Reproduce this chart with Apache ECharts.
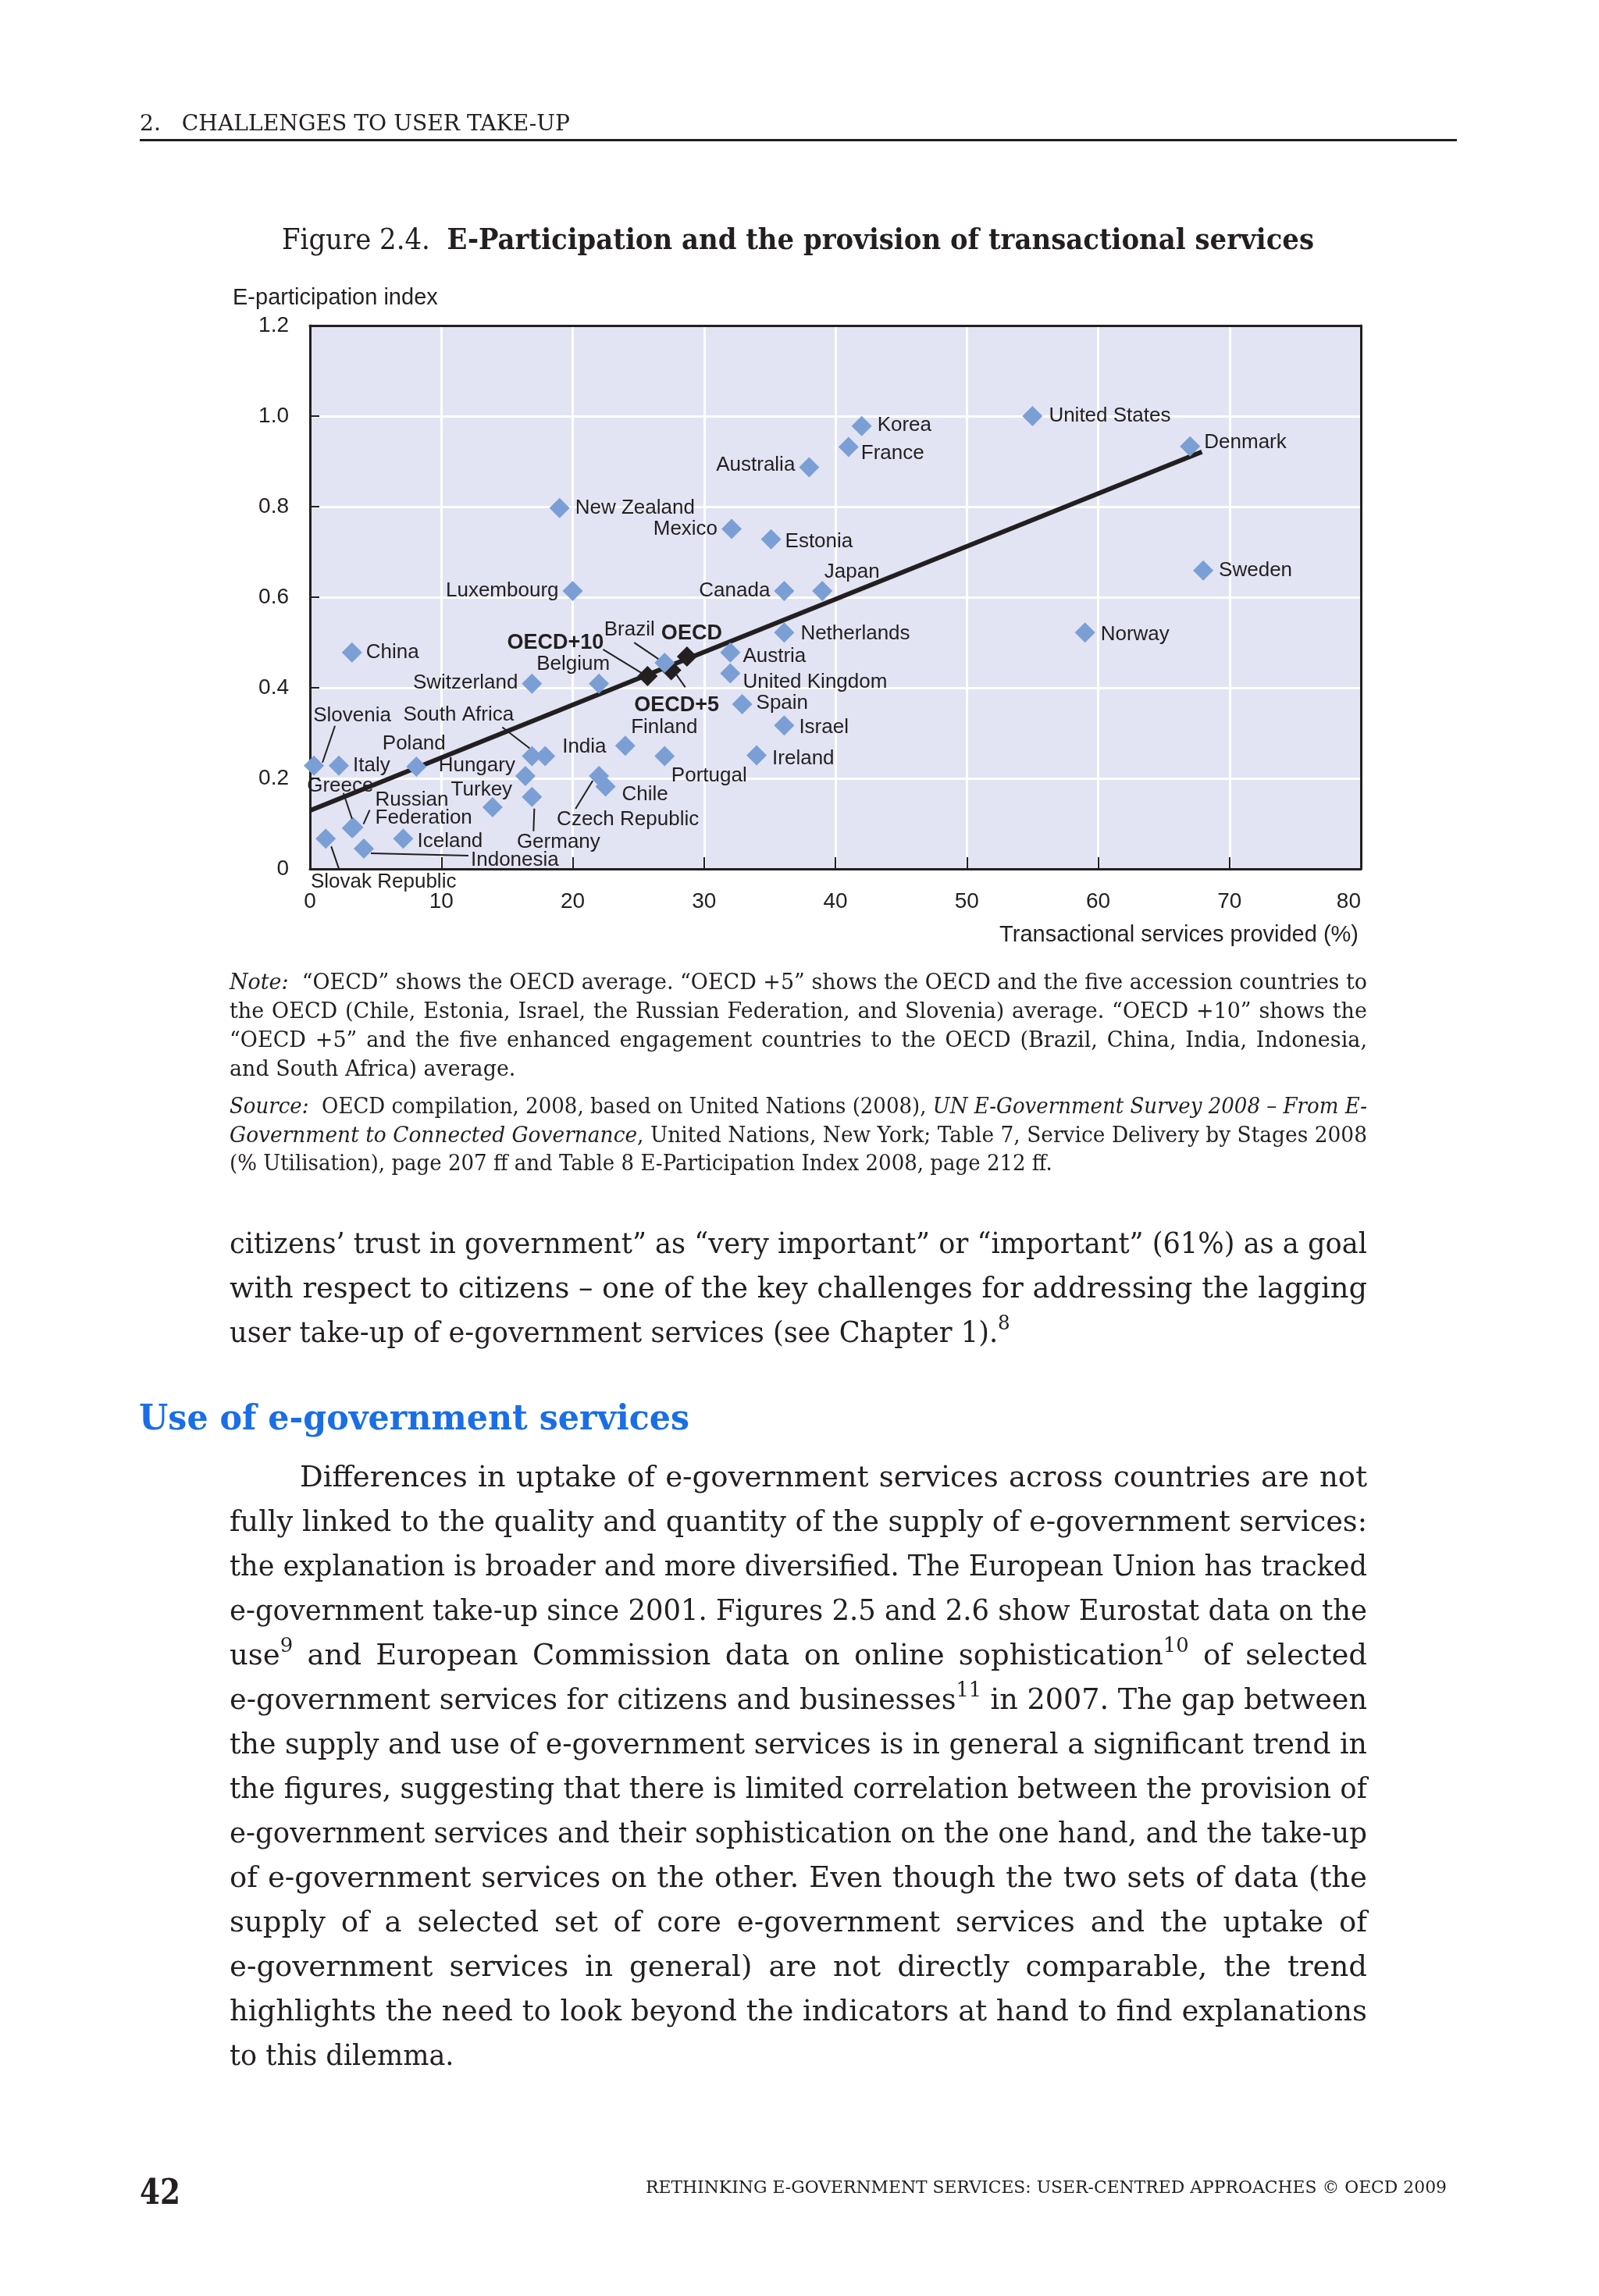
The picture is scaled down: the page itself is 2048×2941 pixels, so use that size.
<!DOCTYPE html>
<html>
<head>
<meta charset="utf-8">
<script src="https://cdn.jsdelivr.net/npm/echarts@6.0.0/dist/echarts.min.js"></script>
<style>
  html, body { margin: 0; padding: 0; background: #ffffff; }
  #page { position: relative; width: 2048px; height: 2941px; overflow: hidden; background: #ffffff; }
  #chart { position: absolute; left: 0; top: 0; width: 2048px; height: 2941px; }
  .t { position: absolute; white-space: nowrap; color: #231f20; transform-origin: 0 50%; z-index: 2; }
  .t sup { font-size: 0.7em; vertical-align: 0.6em; line-height: 0; }
  #rule { position: absolute; left: 179px; top: 178px; width: 1687px; height: 3px; background: #231f20; }
</style>
</head>
<body>
<div id="page">
  <div id="chart"></div>
  <div id="rule"></div>
</div>
<script>
// countries: share of transactional services provided (%) vs e-participation index
const countries = ['China', 'Slovenia', 'Italy', 'Poland', 'Greece', 'Russian Federation', 'Slovak Republic',
  'Indonesia', 'Iceland', 'Turkey', 'Hungary', 'Germany', 'South Africa', 'India', 'Switzerland', 'Belgium',
  'Czech Republic', 'Chile', 'Finland', 'Brazil', 'Portugal', 'Austria', 'United Kingdom', 'Spain', 'Ireland',
  'Israel', 'Netherlands', 'Canada', 'Japan', 'Luxembourg', 'New Zealand', 'Mexico', 'Estonia', 'Australia',
  'France', 'Korea', 'United States', 'Denmark', 'Sweden', 'Norway']
const transactional = [3.2, 0.3, 2.2, 8.1, 3.2, 3.3, 1.2,
  4.1, 7.1, 13.9, 16.4, 16.9, 16.9, 17.9, 16.9, 22.0,
  22.0, 22.5, 24.0, 27.0, 27.0, 32.0, 32.0, 32.9, 34.0,
  36.1, 36.1, 36.1, 39.0, 20.0, 19.0, 32.1, 35.1, 38.0,
  41.0, 42.0, 55.0, 67.0, 68.0, 59.0]
const eParticipation = [0.478, 0.228, 0.228, 0.226, 0.090, 0.092, 0.067,
  0.045, 0.067, 0.136, 0.205, 0.159, 0.249, 0.249, 0.409, 0.409,
  0.205, 0.182, 0.272, 0.455, 0.249, 0.478, 0.432, 0.364, 0.251,
  0.317, 0.522, 0.614, 0.614, 0.614, 0.797, 0.751, 0.728, 0.887,
  0.932, 0.978, 1.0, 0.933, 0.659, 0.522]

// group averages
const averages = ['OECD+10', 'OECD+5', 'OECD']
const averageTransactional = [25.7, 27.5, 28.7]
const averageParticipation = [0.426, 0.439, 0.469]

// trend line end points
const trendX = [0, 67.9]
const trendY = [0.129, 0.921]

const xTicks = [0, 10, 20, 30, 40, 50, 60, 70, 80]
const yTicks = [0, 0.2, 0.4, 0.6, 0.8, 1.0, 1.2]

// label placement: [position, dx, dy] in pixels
const labelPlace = {
  China: ['right', 0, 0],
  Slovenia: ['inside', 49, -64],
  Italy: ['right', 0, 0],
  Poland: ['inside', -3, -29],
  Greece: ['inside', -15, -54],
  'Russian Federation': ['right', 10, -23],
  'Slovak Republic': ['inside', 74, 56],
  Indonesia: ['right', 119, 15],
  Iceland: ['right', 0, 4],
  Turkey: ['inside', -14, -22],
  Hungary: ['left', 5, -13],
  Germany: ['inside', 34, 58],
  'South Africa': ['inside', -94, -53],
  India: ['right', 4, -12],
  Switzerland: ['left', 0, -1],
  Belgium: ['inside', -33, -25],
  'Czech Republic': ['inside', 37, 56],
  Chile: ['right', 3, 10],
  Finland: ['inside', 50, -23],
  Brazil: ['inside', -45, -42],
  Portugal: ['inside', 57, 25],
  Austria: ['right', -2, 5],
  'United Kingdom': ['right', -2, 11],
  Spain: ['right', 0, -1],
  Ireland: ['right', 2, 4],
  Israel: ['right', 1, 3],
  Netherlands: ['right', 3, 2],
  Canada: ['left', 0, 0],
  Japan: ['inside', 38, -24],
  Luxembourg: ['left', 0, 0],
  'New Zealand': ['right', 2, 0],
  Mexico: ['left', 0, 0],
  Estonia: ['right', 0, 3],
  Australia: ['left', 0, -3],
  France: ['right', -2, 8],
  Korea: ['right', 2, -1],
  'United States': ['right', 3, 0],
  Denmark: ['right', 0, -5],
  Sweden: ['right', 2, 0],
  Norway: ['right', 2, 3],
  'OECD+10': ['inside', -118, -42],
  'OECD+5': ['inside', 7, 45],
  OECD: ['inside', 6, -29]
}

// leader lines: [dx1, dy1, dx2, dy2] from the point centre, in pixels
const leaders = {
  Slovenia: [27, -51, 11, -4],
  Greece: [-11, -45, 0, -12],
  'Russian Federation': [21, -22, 13, -4],
  'Slovak Republic': [7, 10, 17, 39],
  Indonesia: [9, 6, 134, 9],
  Germany: [3, 15, 2, 44],
  'South Africa': [-38, -37, -3, -10],
  'Czech Republic': [-30, 42, -8, 6],
  Brazil: [-39, -26, -8, -5],
  'OECD+10': [-57, -34, -8, -4],
  'OECD+5': [18, 22, 4, 2]
}

const INK = '#231f20'
const BLUE = '#7b9fd5'
const SANS = "'Liberation Sans', Arial, sans-serif"
const NARROW = "'Liberation Sans Narrow', 'Liberation Sans', Arial, sans-serif"

function labelFor (name, bold) {
  const p = labelPlace[name] || ['right', 0, 0]
  const lab = {
    show: true,
    position: p[0],
    offset: [p[1], p[2]],
    distance: 5,
    formatter: name === 'Russian Federation' ? 'Russian\nFederation' : name,
    color: INK,
    fontFamily: bold ? NARROW : SANS,
    fontWeight: bold ? 'bold' : 'normal',
    fontSize: bold ? 27 : 26
  }
  if (name === 'Russian Federation') {
    lab.align = 'left'
    lab.lineHeight = 23
  }
  return lab
}

const countryData = countries.map((name, i) => ({
  name,
  value: [transactional[i], eParticipation[i]],
  label: labelFor(name, false)
}))
const averageData = averages.map((name, i) => ({
  name,
  value: [averageTransactional[i], averageParticipation[i]],
  label: labelFor(name, true)
}))

const leaderNames = Object.keys(leaders)
const leaderData = leaderNames.map(name => {
  let i = countries.indexOf(name)
  if (i >= 0) return [transactional[i], eParticipation[i]]
  i = averages.indexOf(name)
  return [averageTransactional[i], averageParticipation[i]]
})

const chart = echarts.init(document.getElementById('chart'))

const hiddenAxis = {
  type: 'value',
  axisLine: { show: true, onZero: false, lineStyle: { color: INK, width: 3 } },
  axisTick: { show: false },
  axisLabel: { show: false },
  splitLine: { show: false }
}

chart.setOption({
  animation: false,
  grid: {
    left: 397,
    right: 305,
    top: 417,
    bottom: 1828,
    show: true,
    backgroundColor: '#e2e4f3',
    borderWidth: 0
  },
  graphic: [
    {
      type: 'text',
      x: 298,
      y: 382,
      style: { text: 'E-participation index', fill: INK, fontFamily: SANS, fontSize: 29, verticalAlign: 'middle', align: 'left' }
    },
    {
      type: 'text',
      x: 1740,
      y: 1198,
      style: { text: 'Transactional services provided (%)', fill: INK, fontFamily: SANS, fontSize: 29, verticalAlign: 'middle', align: 'right' }
    }
  ],
  xAxis: [
    {
      type: 'value',
      min: xTicks[0],
      max: xTicks[xTicks.length - 1],
      interval: xTicks[1] - xTicks[0],
      axisLine: { show: true, lineStyle: { color: INK, width: 3 } },
      axisTick: { show: true, inside: true, length: 15, lineStyle: { color: INK, width: 2 } },
      axisLabel: { margin: 28, fontSize: 28, color: INK, fontFamily: SANS, alignMaxLabel: 'right' },
      splitLine: { show: true, showMinLine: false, showMaxLine: false, lineStyle: { color: '#ffffff', width: 3 } }
    },
    Object.assign({ position: 'top', min: xTicks[0], max: xTicks[xTicks.length - 1] }, hiddenAxis)
  ],
  yAxis: [
    {
      type: 'value',
      min: yTicks[0],
      max: yTicks[yTicks.length - 1],
      interval: 0.2,
      axisLine: { show: true, lineStyle: { color: INK, width: 3 } },
      axisTick: { show: true, inside: true, length: 12, lineStyle: { color: INK, width: 2 } },
      axisLabel: {
        margin: 27,
        fontSize: 28,
        color: INK,
        fontFamily: SANS,
        formatter: v => (v === 0 ? '0' : v.toFixed(1))
      },
      splitLine: { show: true, showMinLine: false, showMaxLine: false, lineStyle: { color: '#ffffff', width: 3 } }
    },
    Object.assign({ position: 'right', min: yTicks[0], max: yTicks[yTicks.length - 1] }, hiddenAxis)
  ],
  series: [
    {
      type: 'line',
      data: trendX.map((x, i) => [x, trendY[i]]),
      symbol: 'none',
      silent: true,
      z: 2,
      lineStyle: { color: INK, width: 6 }
    },
    {
      type: 'scatter',
      data: averageData,
      symbol: 'diamond',
      symbolSize: 26,
      z: 3,
      itemStyle: { color: INK, opacity: 1 }
    },
    {
      type: 'scatter',
      data: countryData,
      symbol: 'diamond',
      symbolSize: 26,
      z: 4,
      itemStyle: { color: BLUE, opacity: 1 }
    },
    {
      type: 'custom',
      data: leaderData,
      z: 5,
      silent: true,
      renderItem (params, api) {
        const p = api.coord([api.value(0), api.value(1)])
        const l = leaders[leaderNames[params.dataIndex]]
        return {
          type: 'line',
          shape: { x1: p[0] + l[0], y1: p[1] + l[1], x2: p[0] + l[2], y2: p[1] + l[3] },
          style: { stroke: INK, lineWidth: 2 }
        }
      }
    }
  ]
})

// page text around the figure
const SERIF = "'DejaVu Serif', 'Liberation Serif', serif"
const page = document.getElementById('page')

function put (html, o) {
  const lh = o.lh || Math.round(o.size * 1.3)
  const d = document.createElement('div')
  d.className = 't'
  d.style.left = o.x + 'px'
  d.style.top = (o.cy - lh / 2) + 'px'
  d.style.height = lh + 'px'
  d.style.lineHeight = lh + 'px'
  d.style.fontFamily = o.family || SERIF
  d.style.fontSize = o.size + 'px'
  d.style.fontWeight = o.weight || 'normal'
  if (o.color) d.style.color = o.color
  d.innerHTML = html
  page.appendChild(d)
  const nat = d.getBoundingClientRect().width
  let s = 1
  if (o.mode === 'fit') {
    s = o.w / nat
  } else if (o.mode === 'justify') {
    if (nat > o.w) {
      s = o.w / nat
    } else {
      d.style.width = o.w + 'px'
      d.style.textAlign = 'justify'
      d.style.textAlignLast = 'justify'
    }
  } else {
    s = Math.min(1, o.w / nat, o.scale || 1)
  }
  if (s !== 1) d.style.transform = 'scaleX(' + s + ')'
  return s
}

function paragraph (lines, o) {
  let minScale = 1
  lines.forEach((line, i) => {
    const last = i === lines.length - 1
    const first = i === 0 && o.indent
    const x = first ? o.indent : o.x
    const s = put(line, {
      x,
      cy: o.cy + i * o.step,
      w: o.right - x,
      size: o.size,
      lh: o.lh,
      mode: last ? 'left' : 'justify',
      scale: minScale
    })
    minScale = Math.min(minScale, s)
  })
}

put('2.&nbsp;&nbsp;&nbsp;CHALLENGES TO USER TAKE-UP', { x: 179, cy: 157, w: 551, size: 27, mode: 'fit' })
put('Figure 2.4.&nbsp;&nbsp;<b>E-Participation and the provision of transactional services</b>',
  { x: 361, cy: 306, w: 1322, size: 37, mode: 'fit' })

paragraph([
  '<i>Note:</i>&nbsp;&nbsp;“OECD” shows the OECD average. “OECD +5” shows the OECD and the five accession countries to',
  'the OECD (Chile, Estonia, Israel, the Russian Federation, and Slovenia) average. “OECD +10” shows the',
  '“OECD +5” and the five enhanced engagement countries to the OECD (Brazil, China, India, Indonesia,',
  'and South Africa) average.'
], { x: 294, right: 1751, cy: 1258, step: 37, size: 27, lh: 36 })

paragraph([
  '<i>Source:</i>&nbsp;&nbsp;OECD compilation, 2008, based on United Nations (2008), <i>UN E-Government Survey 2008 – From E-</i>',
  '<i>Government to Connected Governance</i>, United Nations, New York; Table 7, Service Delivery by Stages 2008',
  '(% Utilisation), page 207 ff and Table 8 E-Participation Index 2008, page 212 ff.'
], { x: 294, right: 1751, cy: 1417, step: 36.5, size: 27, lh: 36 })

paragraph([
  'citizens’ trust in government” as “very important” or “important” (61%) as a goal',
  'with respect to citizens – one of the key challenges for addressing the lagging',
  'user take-up of e-government services (see Chapter 1).<sup>8</sup>'
], { x: 294, right: 1751, cy: 1593, step: 57, size: 37, lh: 50 })

put('Use of e-government services', { x: 178, cy: 1815, w: 705, size: 45, weight: 'bold', color: '#1a6ee6', mode: 'fit' })

paragraph([
  'Differences in uptake of e-government services across countries are not',
  'fully linked to the quality and quantity of the supply of e-government services:',
  'the explanation is broader and more diversified. The European Union has tracked',
  'e-government take-up since 2001. Figures 2.5 and 2.6 show Eurostat data on the',
  'use<sup>9</sup> and European Commission data on online sophistication<sup>10</sup> of selected',
  'e-government services for citizens and businesses<sup>11</sup> in 2007. The gap between',
  'the supply and use of e-government services is in general a significant trend in',
  'the figures, suggesting that there is limited correlation between the provision of',
  'e-government services and their sophistication on the one hand, and the take-up',
  'of e-government services on the other. Even though the two sets of data (the',
  'supply of a selected set of core e-government services and the uptake of',
  'e-government services in general) are not directly comparable, the trend',
  'highlights the need to look beyond the indicators at hand to find explanations',
  'to this dilemma.'
], { x: 294, indent: 384, right: 1751, cy: 1892, step: 57, size: 37, lh: 50 })

put('42', { x: 179, cy: 2807, w: 52, size: 45, weight: 'bold', mode: 'fit' })
put('RETHINKING E-GOVERNMENT SERVICES: USER-CENTRED APPROACHES © OECD 2009',
  { x: 827, cy: 2801, w: 1026, size: 22, mode: 'fit' })
</script>
</body>
</html>
